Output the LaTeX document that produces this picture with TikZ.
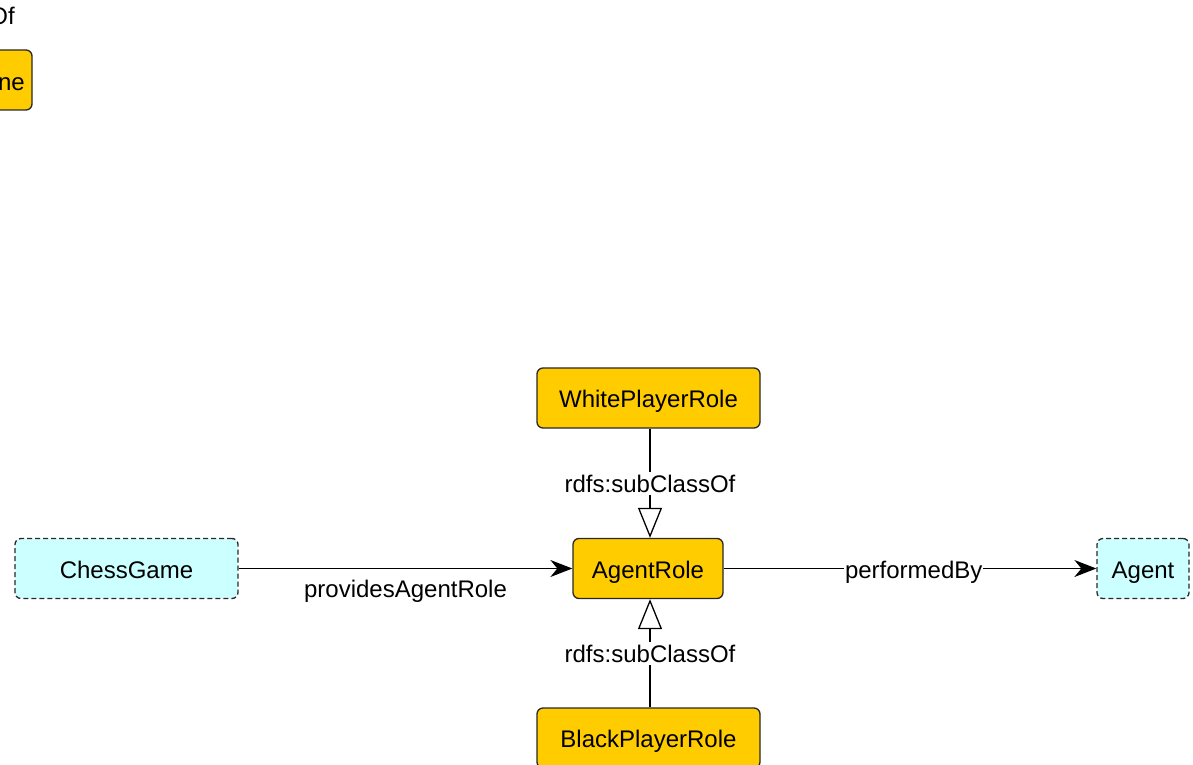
\documentclass[tikz,border=0pt]{standalone}
\usepackage{fontspec}
\setmainfont{Liberation Sans}
\usetikzlibrary{arrows.meta}
\definecolor{gold}{RGB}{255,204,0}
\definecolor{lcyan}{RGB}{204,255,255}
\definecolor{bord}{RGB}{40,40,40}
\begin{document}
\begin{tikzpicture}[x=1pt,y=-1pt,
  txt/.style={font=\fontsize{24}{28}\selectfont,text height=20pt,text depth=1pt},
  cls/.style={txt,draw=bord,line width=1.3pt,rounded corners=6pt,fill=gold,minimum height=60pt,inner sep=0pt},
  ext/.style={cls,fill=lcyan,dashed,dash pattern=on 5pt off 3pt},
  lbl/.style={txt,fill=white,inner sep=1pt},
  edge/.style={line width=1.5pt,black},
  sub/.style={edge,-{Triangle[open,length=30pt,width=24pt,fill=white,line width=1.3pt]}},
  rel/.style={edge,-{Stealth[length=22pt,width=17pt,inset=7pt]}}]
\useasboundingbox (0,0) rectangle (1193,765);
% partial items at top-left
\node[txt,anchor=east,inner sep=0pt] (ofl) at (15,15) {Of};
\draw[draw=bord,line width=1.3pt,rounded corners=6pt,fill=gold] (-200,50) rectangle (32,110);
\node[txt,anchor=east,inner sep=0pt] (nel) at (25,81) {ne};
% nodes
\node[cls,minimum width=223pt] (white) at (648.5,398) {WhitePlayerRole};
\node[cls,minimum width=150pt] (agentrole) at (648,568.5) {AgentRole};
\node[cls,minimum width=223pt] (black) at (648.5,738) {BlackPlayerRole};
\node[ext,minimum width=223pt] (chess) at (126.5,568.5) {ChessGame};
\node[ext,minimum width=92pt] (agent) at (1143,568.5) {Agent};
% edges
\draw[sub] (white.south -| 650,0) -- node[lbl,pos=0.5] {rdfs:subClassOf} (agentrole.north -| 650,0);
\draw[sub] (black.north -| 650,0) -- node[lbl,pos=0.5] {rdfs:subClassOf} (agentrole.south -| 650,0);
\draw[rel] (chess.east) -- node[txt,below=8pt,inner sep=0pt] {providesAgentRole} (agentrole.west);
\draw[rel] (agentrole.east) -- node[lbl,pos=0.51] {performedBy} (agent.west);
\end{tikzpicture}
\end{document}
